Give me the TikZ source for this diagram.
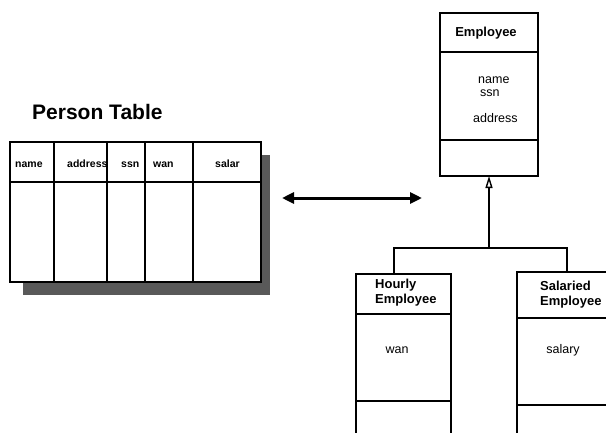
\documentclass[tikz,border=0pt]{standalone}
\usepackage{fontspec}
\setmainfont{Liberation Sans}
\usetikzlibrary{arrows.meta}
\begin{document}
\begin{tikzpicture}[x=1pt,y=-1pt,
  frame/.style={draw, line width=1.7pt, rectangle, inner sep=0pt, outer sep=0pt},
  rule/.style={line width=1.7pt},
  conn/.style={line width=1.7pt},
  shade/.style={fill=black!65},
  biarrow/.style={line width=3pt, {Triangle[length=12pt,width=11pt]}-{Triangle[length=12pt,width=11pt]}},
  gentip/.style={-{Triangle[open,length=12pt,width=7pt,line width=1.4pt]}},
  title/.style={font=\bfseries\fontsize{21}{25}\selectfont, inner sep=0pt},
  cls/.style={font=\bfseries\fontsize{13}{15}\selectfont, inner sep=0pt, align=left},
  attr/.style={font=\fontsize{12.5}{14}\selectfont, inner sep=0pt},
  colhead/.style={font=\bfseries\fontsize{10.5}{12}\selectfont, inner sep=0pt, anchor=base west}
]
\useasboundingbox (0,0) rectangle (606,432);
\clip (0,0) rectangle (606,432);

% ---------- Person Table ----------
\node[title, anchor=base west] (ptitle) at (32,119) {Person Table};
\fill[shade] (23,282) rectangle (270,295);
\fill[shade] (261,155) rectangle (270,295);
\node[frame, fill=white, minimum width=251pt, minimum height=140pt] (tab) at (135.5,212) {};
\draw[rule] ([yshift=-40pt]tab.north west) -- ([yshift=-40pt]tab.north east);
\foreach \dx in {44,97,135,183}
  \draw[rule] ([xshift=\dx pt]tab.north west) -- ([xshift=\dx pt]tab.south west);
\node[colhead] (hname) at (15,167) {name};
\begin{scope}
  \clip (54,143) rectangle (107.5,181);
  \node[colhead] (haddr) at (67,167) {address};
\end{scope}
\node[colhead] (hssn) at (121,167) {ssn};
\node[colhead] (hwan) at (153,167) {wan};
\node[colhead] (hsal) at (215,167) {salar};

% ---------- bidirectional arrow ----------
\coordinate (aL) at (282,198);
\coordinate (aR) at (422,198);
\draw[biarrow] (aL) -- (aR);

% ---------- Employee class ----------
\node[frame, minimum width=98pt, minimum height=163pt] (emp) at (489,94.5) {};
\draw[rule] ([yshift=-39pt]emp.north west) -- ([yshift=-39pt]emp.north east);
\draw[rule] ([yshift=-127pt]emp.north west) -- ([yshift=-127pt]emp.north east);
\node[cls] (empname) at (486,33) {Employee};
\node[attr, anchor=west] (ename) at (478,80) {name};
\node[attr, anchor=west] (essn) at (480,93) {ssn};
\node[attr, anchor=west] (eaddr) at (473,118) {address};

% ---------- Hourly Employee ----------
\node[frame, minimum width=95pt, minimum height=166pt] (hour) at (403.5,357) {};
\draw[rule] ([yshift=-40pt]hour.north west) -- ([yshift=-40pt]hour.north east);
\draw[rule] ([yshift=-127pt]hour.north west) -- ([yshift=-127pt]hour.north east);
\node[cls, anchor=west] (hourname) at (375,293) {Hourly\\Employee};
\node[attr] (hwage) at (397,350) {wan};

% ---------- Salaried Employee ----------
\node[frame, minimum width=95pt, minimum height=168pt] (sal) at (564.5,356) {};
\draw[rule] ([yshift=-46pt]sal.north west) -- ([yshift=-46pt]sal.north east);
\draw[rule] ([yshift=-133pt]sal.north west) -- ([yshift=-133pt]sal.north east);
\node[cls, anchor=west] (salname) at (540,295) {Salaried\\Employee};
\node[attr] (ssal) at (563,350) {salary};

% ---------- generalisation ----------
\coordinate (junc) at (489,248);
\draw[conn] ([xshift=-9.5pt]hour.north) |- (junc) -| ([xshift=2.5pt]sal.north);
\draw[conn, gentip] (junc) -- (emp.south);
\end{tikzpicture}
\end{document}
